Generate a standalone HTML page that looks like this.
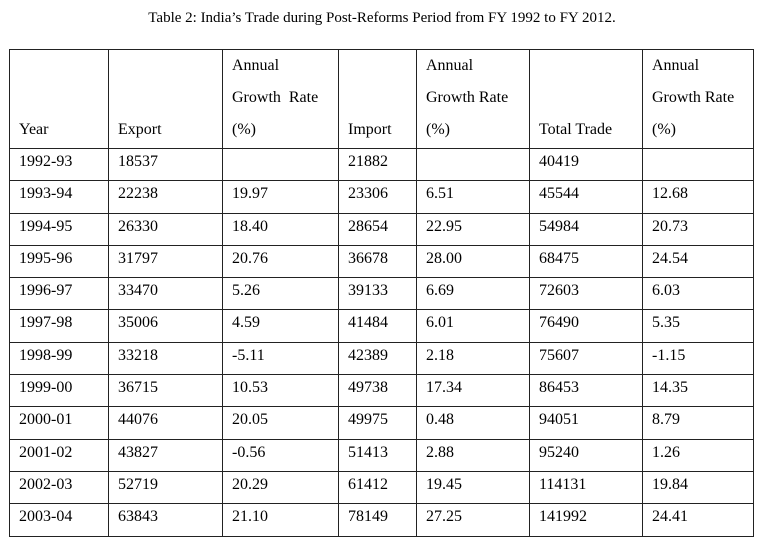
<!DOCTYPE html>
<html><head><meta charset="utf-8"><style>
body{margin:0;background:#fff;width:764px;height:545px;overflow:hidden;font-family:"Liberation Serif",serif;color:#000}
#title{position:absolute;left:0;width:764px;top:10px;text-align:center;font-size:15px}
table{position:absolute;left:9px;top:49px;border-collapse:collapse;font-size:16px}
td{border:1.5px solid #222;padding:0 0 0 9px;vertical-align:top;height:32.3px;line-height:25px;box-sizing:border-box}
tr.h td{height:91px;vertical-align:bottom;line-height:32px;padding-bottom:2px}
</style></head><body>
<div id="title">Table 2: India’s Trade during Post-Reforms Period from FY 1992 to FY 2012.</div>
<table>
<colgroup><col style="width:99px"><col style="width:114px"><col style="width:116px"><col style="width:78px"><col style="width:113px"><col style="width:113px"><col style="width:111px"></colgroup>
<tr class="h"><td>Year</td><td>Export</td><td>Annual<br>Growth&nbsp; Rate<br>(%)</td><td>Import</td><td>Annual<br>Growth Rate<br>(%)</td><td>Total Trade</td><td>Annual<br>Growth Rate<br>(%)</td></tr>
<tbody id="rows"></tbody>
</table>
<script>
const years=["1992-93","1993-94","1994-95","1995-96","1996-97","1997-98","1998-99","1999-00","2000-01","2001-02","2002-03","2003-04"];
const exportsV=["18537","22238","26330","31797","33470","35006","33218","36715","44076","43827","52719","63843"];
const exportGrowth=["","19.97","18.40","20.76","5.26","4.59","-5.11","10.53","20.05","-0.56","20.29","21.10"];
const importsV=["21882","23306","28654","36678","39133","41484","42389","49738","49975","51413","61412","78149"];
const importGrowth=["","6.51","22.95","28.00","6.69","6.01","2.18","17.34","0.48","2.88","19.45","27.25"];
const totalV=["40419","45544","54984","68475","72603","76490","75607","86453","94051","95240","114131","141992"];
const totalGrowth=["","12.68","20.73","24.54","6.03","5.35","-1.15","14.35","8.79","1.26","19.84","24.41"];
const tb=document.getElementById('rows');
years.forEach((y,i)=>{
const tr=document.createElement('tr');


[y,exportsV[i],exportGrowth[i],importsV[i],importGrowth[i],totalV[i],totalGrowth[i]].forEach(v=>{
const td=document.createElement('td');td.textContent=v;


tr.appendChild(td);});
tb.appendChild(tr);});
</script>
</body></html>
